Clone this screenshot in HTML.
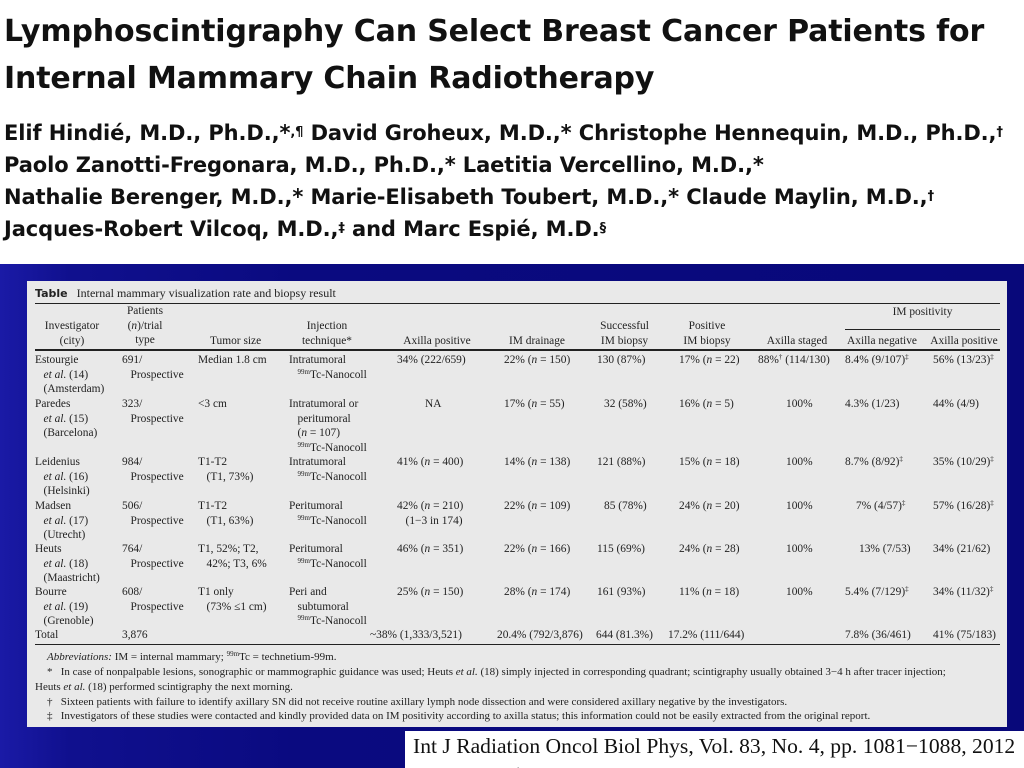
<!DOCTYPE html>
<html><head><meta charset="utf-8"><style>
*{margin:0;padding:0;box-sizing:border-box}
body{width:1024px;height:768px;overflow:hidden;background:#fff;position:relative;font-family:"Liberation Serif",serif}
.t{position:absolute;white-space:nowrap;font-family:"DejaVu Sans",sans-serif;font-weight:bold;color:#111}
#blue{position:absolute;left:0;top:264px;width:1024px;height:504px;background:linear-gradient(90deg,#1a1aa6 0,#10108e 70px,#0a0a80 300px,#08087a 100%)}
#tb{position:absolute;left:27px;top:281px;width:980px;height:446px;background:#e9e9e9;font-size:11.4px;color:#222;line-height:14.6px}
#tb div{position:absolute;white-space:nowrap}
.c{text-align:center}
.r{position:absolute;background:#222}
sup{font-size:7px;vertical-align:4px;line-height:0}
#cit{position:absolute;left:405px;top:731px;width:619px;height:37px;background:#fff;font-size:21.6px;color:#111;padding-left:8px;line-height:30px;overflow:hidden}
.fn{font-size:11px}
</style></head><body>
<div class="t" style="left:4px;top:14px;font-size:30px;letter-spacing:-0.15px">Lymphoscintigraphy Can Select Breast Cancer Patients for</div>
<div class="t" style="left:4px;top:61px;font-size:30px;letter-spacing:-0.15px">Internal Mammary Chain Radiotherapy</div>
<div class="t" style="left:4px;top:117px;font-size:21px;letter-spacing:-0.1px;line-height:32px">Elif Hindié, M.D., Ph.D.,*<sup style="font-size:13px">,¶</sup> David Groheux, M.D.,* Christophe Hennequin, M.D., Ph.D.,<sup style="font-size:13px">†</sup><br>Paolo Zanotti-Fregonara, M.D., Ph.D.,* Laetitia Vercellino, M.D.,*<br>Nathalie Berenger, M.D.,* Marie-Elisabeth Toubert, M.D.,* Claude Maylin, M.D.,<sup style="font-size:13px">†</sup><br>Jacques-Robert Vilcoq, M.D.,<sup style="font-size:13px">‡</sup> and Marc Espié, M.D.<sup style="font-size:13px">§</sup></div>
<div id="blue"></div>
<div id="tb">
<div style="left:8px;top:5px;font-size:12px"><b style="font-family:'DejaVu Sans',sans-serif;font-size:11px">Table</b>&nbsp;&nbsp;&nbsp;Internal mammary visualization rate and biopsy result</div>
<div class="r" style="left:8px;top:22px;width:965px;height:1px"></div>
<div class="r" style="left:818px;top:48px;width:155px;height:1px"></div>
<div class="r" style="left:8px;top:68px;width:965px;height:1.5px"></div>
<div class="r" style="left:8px;top:363px;width:965px;height:1px"></div>
<div class="c" style="left:8px;top:38px;width:74px">Investigator<br>(city)</div>
<div class="c" style="left:86px;top:23px;width:64px">Patients<br>(<i>n</i>)/trial<br>type</div>
<div style="left:183px;top:53px">Tumor size</div>
<div class="c" style="left:253px;top:38px;width:94px">Injection<br>technique*</div>
<div class="c" style="left:358px;top:53px;width:104px">Axilla positive</div>
<div class="c" style="left:468px;top:53px;width:84px">IM drainage</div>
<div class="c" style="left:558px;top:38px;width:79px">Successful<br>IM biopsy</div>
<div class="c" style="left:638px;top:38px;width:84px">Positive<br>IM biopsy</div>
<div class="c" style="left:723px;top:53px;width:94px">Axilla staged</div>
<div class="c" style="left:818px;top:24px;width:155px">IM positivity</div>
<div class="c" style="left:813px;top:53px;width:84px">Axilla negative</div>
<div class="c" style="left:896px;top:53px;width:82px">Axilla positive</div>

<div style="left:8px;top:72px">Estourgie<br>&nbsp;&nbsp;&nbsp;<i>et al.</i> (14)<br>&nbsp;&nbsp;&nbsp;(Amsterdam)</div>
<div style="left:95px;top:72px">691/<br>&nbsp;&nbsp;&nbsp;Prospective</div>
<div style="left:171px;top:72px">Median 1.8 cm</div>
<div style="left:262px;top:72px">Intratumoral<br>&nbsp;&nbsp;&nbsp;<sup>99m</sup>Tc-Nanocoll</div>
<div style="left:370px;top:72px">34% (222/659)</div>
<div style="left:477px;top:72px">22% (<i>n</i> = 150)</div>
<div style="left:570px;top:72px">130 (87%)</div>
<div style="left:652px;top:72px">17% (<i>n</i> = 22)</div>
<div style="left:731px;top:72px">88%<sup>†</sup> (114/130)</div>
<div style="left:818px;top:72px">8.4% (9/107)<sup>‡</sup></div>
<div style="left:906px;top:72px">56% (13/23)<sup>‡</sup></div>

<div style="left:8px;top:116px">Paredes<br>&nbsp;&nbsp;&nbsp;<i>et al.</i> (15)<br>&nbsp;&nbsp;&nbsp;(Barcelona)</div>
<div style="left:95px;top:116px">323/<br>&nbsp;&nbsp;&nbsp;Prospective</div>
<div style="left:171px;top:116px">&lt;3 cm</div>
<div style="left:262px;top:116px">Intratumoral or<br>&nbsp;&nbsp;&nbsp;peritumoral<br>&nbsp;&nbsp;&nbsp;(<i>n</i> = 107)<br>&nbsp;&nbsp;&nbsp;<sup>99m</sup>Tc-Nanocoll</div>
<div style="left:398px;top:116px">NA</div>
<div style="left:477px;top:116px">17% (<i>n</i> = 55)</div>
<div style="left:577px;top:116px">32 (58%)</div>
<div style="left:652px;top:116px">16% (<i>n</i> = 5)</div>
<div style="left:759px;top:116px">100%</div>
<div style="left:818px;top:116px">4.3% (1/23)</div>
<div style="left:906px;top:116px">44% (4/9)</div>

<div style="left:8px;top:174px">Leidenius<br>&nbsp;&nbsp;&nbsp;<i>et al.</i> (16)<br>&nbsp;&nbsp;&nbsp;(Helsinki)</div>
<div style="left:95px;top:174px">984/<br>&nbsp;&nbsp;&nbsp;Prospective</div>
<div style="left:171px;top:174px">T1-T2<br>&nbsp;&nbsp;&nbsp;(T1, 73%)</div>
<div style="left:262px;top:174px">Intratumoral<br>&nbsp;&nbsp;&nbsp;<sup>99m</sup>Tc-Nanocoll</div>
<div style="left:370px;top:174px">41% (<i>n</i> = 400)</div>
<div style="left:477px;top:174px">14% (<i>n</i> = 138)</div>
<div style="left:570px;top:174px">121 (88%)</div>
<div style="left:652px;top:174px">15% (<i>n</i> = 18)</div>
<div style="left:759px;top:174px">100%</div>
<div style="left:818px;top:174px">8.7% (8/92)<sup>‡</sup></div>
<div style="left:906px;top:174px">35% (10/29)<sup>‡</sup></div>

<div style="left:8px;top:218px">Madsen<br>&nbsp;&nbsp;&nbsp;<i>et al.</i> (17)<br>&nbsp;&nbsp;&nbsp;(Utrecht)</div>
<div style="left:95px;top:218px">506/<br>&nbsp;&nbsp;&nbsp;Prospective</div>
<div style="left:171px;top:218px">T1-T2<br>&nbsp;&nbsp;&nbsp;(T1, 63%)</div>
<div style="left:262px;top:218px">Peritumoral<br>&nbsp;&nbsp;&nbsp;<sup>99m</sup>Tc-Nanocoll</div>
<div style="left:370px;top:218px">42% (<i>n</i> = 210)<br>&nbsp;&nbsp;&nbsp;(1−3 in 174)</div>
<div style="left:477px;top:218px">22% (<i>n</i> = 109)</div>
<div style="left:577px;top:218px">85 (78%)</div>
<div style="left:652px;top:218px">24% (<i>n</i> = 20)</div>
<div style="left:759px;top:218px">100%</div>
<div style="left:829px;top:218px">7% (4/57)<sup>‡</sup></div>
<div style="left:906px;top:218px">57% (16/28)<sup>‡</sup></div>

<div style="left:8px;top:261px">Heuts<br>&nbsp;&nbsp;&nbsp;<i>et al.</i> (18)<br>&nbsp;&nbsp;&nbsp;(Maastricht)</div>
<div style="left:95px;top:261px">764/<br>&nbsp;&nbsp;&nbsp;Prospective</div>
<div style="left:171px;top:261px">T1, 52%; T2,<br>&nbsp;&nbsp;&nbsp;42%; T3, 6%</div>
<div style="left:262px;top:261px">Peritumoral<br>&nbsp;&nbsp;&nbsp;<sup>99m</sup>Tc-Nanocoll</div>
<div style="left:370px;top:261px">46% (<i>n</i> = 351)</div>
<div style="left:477px;top:261px">22% (<i>n</i> = 166)</div>
<div style="left:570px;top:261px">115 (69%)</div>
<div style="left:652px;top:261px">24% (<i>n</i> = 28)</div>
<div style="left:759px;top:261px">100%</div>
<div style="left:832px;top:261px">13% (7/53)</div>
<div style="left:906px;top:261px">34% (21/62)</div>

<div style="left:8px;top:304px">Bourre<br>&nbsp;&nbsp;&nbsp;<i>et al.</i> (19)<br>&nbsp;&nbsp;&nbsp;(Grenoble)</div>
<div style="left:95px;top:304px">608/<br>&nbsp;&nbsp;&nbsp;Prospective</div>
<div style="left:171px;top:304px">T1 only<br>&nbsp;&nbsp;&nbsp;(73% ≤1 cm)</div>
<div style="left:262px;top:304px">Peri and<br>&nbsp;&nbsp;&nbsp;subtumoral<br>&nbsp;&nbsp;&nbsp;<sup>99m</sup>Tc-Nanocoll</div>
<div style="left:370px;top:304px">25% (<i>n</i> = 150)</div>
<div style="left:477px;top:304px">28% (<i>n</i> = 174)</div>
<div style="left:570px;top:304px">161 (93%)</div>
<div style="left:652px;top:304px">11% (<i>n</i> = 18)</div>
<div style="left:759px;top:304px">100%</div>
<div style="left:818px;top:304px">5.4% (7/129)<sup>‡</sup></div>
<div style="left:906px;top:304px">34% (11/32)<sup>‡</sup></div>

<div style="left:8px;top:347px">Total</div>
<div style="left:95px;top:347px">3,876</div>
<div style="left:343px;top:347px">~38% (1,333/3,521)</div>
<div style="left:470px;top:347px">20.4% (792/3,876)</div>
<div style="left:569px;top:347px">644 (81.3%)</div>
<div style="left:641px;top:347px">17.2% (111/644)</div>
<div style="left:818px;top:347px">7.8% (36/461)</div>
<div style="left:906px;top:347px">41% (75/183)</div>

<div class="fn" style="left:20px;top:369px"><i>Abbreviations:</i> IM = internal mammary; <sup>99m</sup>Tc = technetium-99m.</div>
<div class="fn" style="left:20px;top:384px">*&nbsp;&nbsp;&nbsp;In case of nonpalpable lesions, sonographic or mammographic guidance was used; Heuts <i>et al.</i> (18) simply injected in corresponding quadrant; scintigraphy usually obtained 3−4 h after tracer injection;</div>
<div class="fn" style="left:8px;top:399px">Heuts <i>et al.</i> (18) performed scintigraphy the next morning.</div>
<div class="fn" style="left:20px;top:414px">†&nbsp;&nbsp;&nbsp;Sixteen patients with failure to identify axillary SN did not receive routine axillary lymph node dissection and were considered axillary negative by the investigators.</div>
<div class="fn" style="left:20px;top:428px">‡&nbsp;&nbsp;&nbsp;Investigators of these studies were contacted and kindly provided data on IM positivity according to axilla status; this information could not be easily extracted from the original report.</div>
</div>
<div id="cit">Int J Radiation Oncol Biol Phys, Vol. 83, No. 4, pp. 1081−1088, 2012<br>0360-3016/$ - see front matter © 2012 Elsevier Inc. All rights reserved</div>
</body></html>
